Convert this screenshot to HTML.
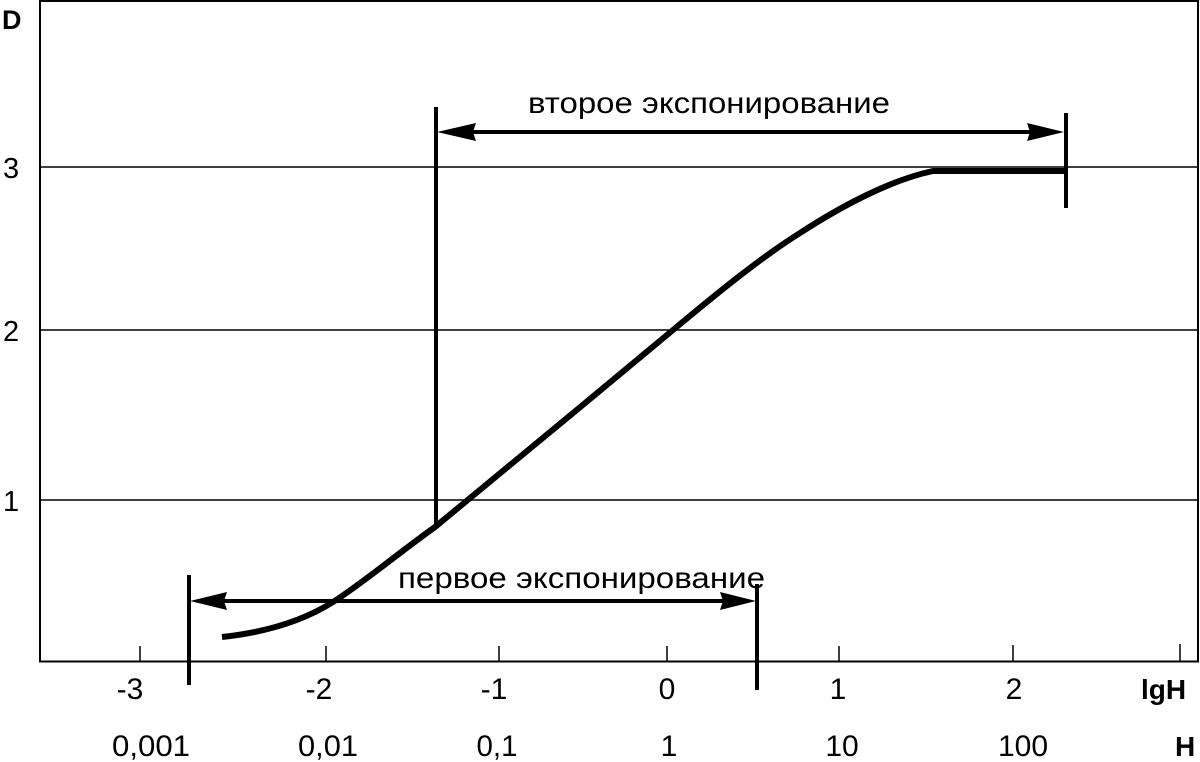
<!DOCTYPE html>
<html>
<head>
<meta charset="utf-8">
<style>
  html, body { margin:0; padding:0; background:#fff; }
  svg { display:block; }
  text { font-family: "Liberation Sans", "DejaVu Sans", sans-serif; fill:#000; }
</style>
</head>
<body>
<svg width="1200" height="762" viewBox="0 0 1200 762" xmlns="http://www.w3.org/2000/svg">
  <rect x="0" y="0" width="1200" height="762" fill="#fff"/>
  <!-- frame -->
  <line x1="40" y1="1" x2="1198" y2="1" stroke="#000" stroke-width="2"/>
  <line x1="40" y1="0" x2="40" y2="662" stroke="#000" stroke-width="2"/>
  <line x1="1198" y1="0" x2="1198" y2="662" stroke="#000" stroke-width="2"/>
  <line x1="39" y1="661.5" x2="1199" y2="661.5" stroke="#000" stroke-width="2"/>
  <!-- grid -->
  <line x1="40" y1="167" x2="1198" y2="167" stroke="#000" stroke-width="1.4"/>
  <line x1="40" y1="330" x2="1198" y2="330" stroke="#000" stroke-width="1.4"/>
  <line x1="40" y1="500" x2="1198" y2="500" stroke="#000" stroke-width="1.4"/>
  <!-- ticks -->
  <g stroke="#000" stroke-width="1.5">
    <line x1="140" y1="646" x2="140" y2="661"/>
    <line x1="326" y1="646" x2="326" y2="661"/>
    <line x1="499" y1="646" x2="499" y2="661"/>
    <line x1="667" y1="646" x2="667" y2="661"/>
    <line x1="839" y1="646" x2="839" y2="661"/>
    <line x1="1013" y1="645" x2="1013" y2="661"/>
    <line x1="1180" y1="644" x2="1180" y2="661"/>
  </g>

  <!-- curve -->
  <path fill="none" stroke="#000" stroke-width="6" stroke-linejoin="round"
    d="M222,637 C250,634 295,626 333,602 C360,585 400,552 435,527 C480,490 600,391 673,330 C715,295 760,258 800,233 C840,207 890,180 933,171 L1066,171"/>

  <!-- second exposure -->
  <line x1="436" y1="107" x2="436" y2="525" stroke="#000" stroke-width="4"/>
  <line x1="1066" y1="113" x2="1066" y2="208" stroke="#000" stroke-width="4"/>
  <line x1="470" y1="132" x2="1032" y2="132" stroke="#000" stroke-width="4"/>
  <polygon points="437,132 476,123 473,132 476,141" fill="#000"/>
  <polygon points="1064,132 1027,123 1030,132 1027,141" fill="#000"/>
  <text x="528" y="113" font-size="30" textLength="362" lengthAdjust="spacingAndGlyphs">второе экспонирование</text>

  <!-- first exposure -->
  <line x1="189" y1="575" x2="189" y2="685" stroke="#000" stroke-width="4"/>
  <line x1="757" y1="584" x2="757" y2="690" stroke="#000" stroke-width="4"/>
  <line x1="220" y1="601" x2="726" y2="601" stroke="#000" stroke-width="4"/>
  <polygon points="190,601 227,592 224,601 227,610" fill="#000"/>
  <polygon points="756,601 720,592 723,601 720,610" fill="#000"/>
  <text x="398" y="588" font-size="30" textLength="367" lengthAdjust="spacingAndGlyphs">первое экспонирование</text>

  <!-- axis labels -->
  <text x="2" y="29" font-size="27" font-weight="bold">D</text>
  <text x="3" y="178" font-size="29">3</text>
  <text x="3" y="341" font-size="29">2</text>
  <text x="3" y="511" font-size="29">1</text>

  <g font-size="30" text-anchor="middle">
    <text x="130" y="699">-3</text>
    <text x="319" y="699">-2</text>
    <text x="494" y="699">-1</text>
    <text x="667" y="699">0</text>
    <text x="838" y="699">1</text>
    <text x="1014" y="699">2</text>

    <text x="151" y="756" textLength="78" lengthAdjust="spacingAndGlyphs">0,001</text>
    <text x="328" y="756" textLength="60" lengthAdjust="spacingAndGlyphs">0,01</text>
    <text x="497" y="756" textLength="41" lengthAdjust="spacingAndGlyphs">0,1</text>
    <text x="669" y="756">1</text>
    <text x="842" y="756">10</text>
    <text x="1023" y="756">100</text>
  </g>
  <text x="1141" y="699" font-size="28" font-weight="bold">lgH</text>
  <text x="1175" y="756" font-size="28" font-weight="bold">H</text>
</svg>
</body>
</html>
